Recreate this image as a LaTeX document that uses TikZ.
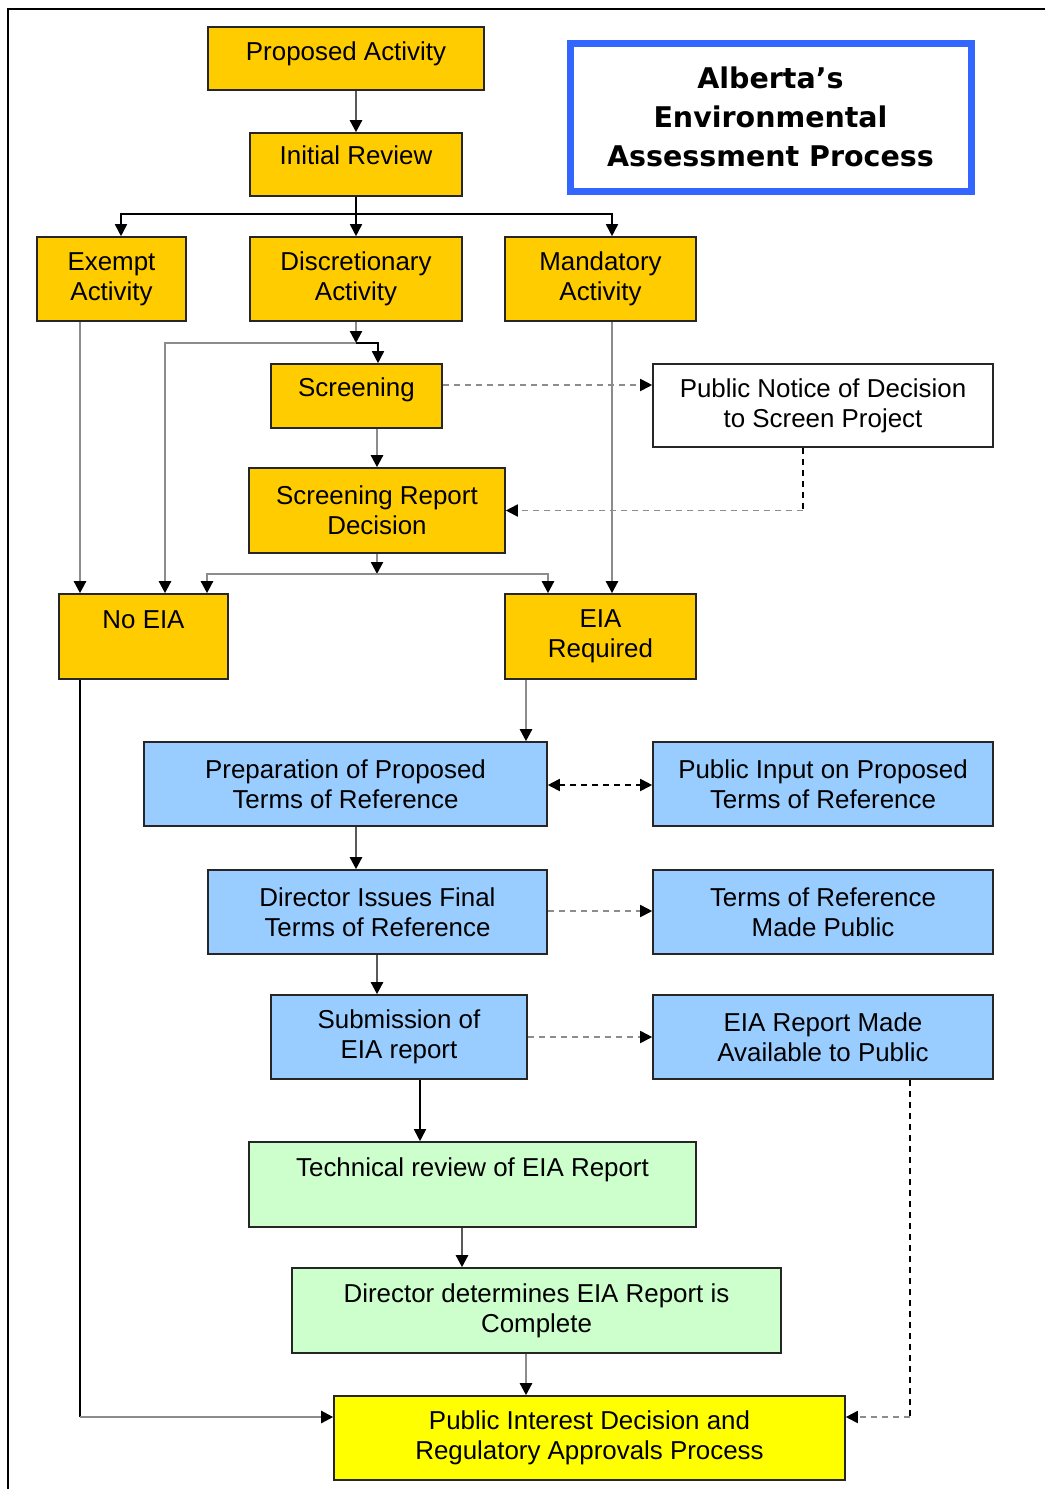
\documentclass[tikz,border=0pt]{standalone}
\usepackage{fontspec}
\setmainfont{Liberation Sans}
\newfontfamily\headfont{DejaVu Sans}
\usetikzlibrary{arrows.meta}

\definecolor{stagegold}{HTML}{FFCC00}
\definecolor{stageblue}{HTML}{99CCFF}
\definecolor{stagegreen}{HTML}{CCFFCC}
\definecolor{stageyellow}{HTML}{FFFF00}
\definecolor{headblue}{HTML}{3366FF}

\tikzset{
  flowtip/.tip={Triangle[length=12pt,width=12pt,color=black]},
  stage/.style={draw=black!85,line width=1.6pt,align=center,inner sep=2pt,
    font=\fontsize{25.9pt}{30pt}\selectfont},
  boxsize/.style 2 args={minimum width=#1pt,minimum height=#2pt},
  gold/.style={stage,fill=stagegold},
  sky/.style={stage,fill=stageblue},
  mint/.style={stage,fill=stagegreen},
  lemon/.style={stage,fill=stageyellow},
  plain/.style={stage,fill=white},
  oneline/.style={text height=18.5pt,text depth=#1},
  oneline/.default=0pt,
  heading/.style={draw=headblue,line width=7pt,align=center,
    font=\headfont\bfseries\fontsize{28.5pt}{39pt}\selectfont},
  flow/.style={line width=2.4pt,draw=black!45,-flowtip},
  blackflow/.style={line width=1.6pt,draw=black,-flowtip},
  notice/.style={line width=1.8pt,draw=black!45,dash pattern=on 6pt off 5pt,-flowtip}
}

\begin{document}
\begin{tikzpicture}[x=1pt,y=-1pt]
  \useasboundingbox (0,0) rectangle (1045,1489);
  \draw[line width=2pt] (8,1489) -- (8,9) -- (1045,9);

  % screening stage
  \node[gold,boxsize={276}{63},oneline=15pt] (pa) at (346,58.5) {Proposed Activity};
  \node[gold,boxsize={212}{63},oneline=19pt] (ir) at (356,164.5) {Initial Review};
  \node[gold,boxsize={149}{84}] (ex) at (111.5,279) {Exempt\\Activity};
  \node[gold,boxsize={212}{84}] (disc) at (356,279) {Discretionary\\Activity};
  \node[gold,boxsize={191}{84}] (mand) at (600.5,279) {Mandatory\\Activity};
  \node[heading,boxsize={401}{148}] (head) at (770.5,117) {Alberta’s\\Environmental\\Assessment Process};
  \node[gold,boxsize={171}{64},oneline=18pt] (scr) at (356.5,396) {Screening};
  \node[plain,boxsize={340}{83}] (pn) at (823,405.5) {Public Notice of Decision\\to Screen Project};
  \node[gold,boxsize={256}{85}] (srd) at (377,510.5) {Screening Report\\Decision};
  \node[gold,boxsize={169}{85},oneline=35pt] (noeia) at (143.5,636.5) {No EIA};
  \node[gold,boxsize={191}{85}] (eiareq) at (600.5,636.5) {EIA\\Required};

  % terms of reference
  \node[sky,boxsize={403}{84}] (prep) at (345.5,784) {Preparation of Proposed\\Terms of Reference};
  \node[sky,boxsize={340}{84}] (pi) at (823,784) {Public Input on Proposed\\Terms of Reference};
  \node[sky,boxsize={339}{84}] (dir) at (377.5,912) {Director Issues Final\\Terms of Reference};
  \node[sky,boxsize={340}{84}] (tmp) at (823,912) {Terms of Reference\\Made Public};
  \node[sky,boxsize={256}{84}] (sub) at (399,1037) {Submission of\\EIA report};
  \node[sky,boxsize={340}{84}] (avail) at (823,1037) {EIA Report Made\\Available to Public};

  % review and decision
  \node[mint,boxsize={447}{85},oneline=35pt] (tech) at (472.5,1184.5) {Technical review of EIA Report};
  \node[mint,boxsize={489}{85}] (det) at (536.5,1310.5) {Director determines EIA Report is\\Complete};
  \node[lemon,boxsize={511}{84}] (pid) at (589.5,1438) {Public Interest Decision and\\Regulatory Approvals Process};

  \coordinate (j1) at (356,214);
  \coordinate (j2) at (356,343);
  \coordinate (j3) at (377,574);
  \coordinate (k1) at (80,1417);
  \coordinate (k2) at (803,510.5);
  \coordinate (k3) at (910,1417);

  \draw[flow,draw=black!65] (pa.south -| ir.north) -- (ir.north);
  \draw[blackflow,-] (ir.south) -- (j1);
  \draw[blackflow] (j1) -| ([xshift=9.5pt]ex.north);
  \draw[blackflow] (j1) -- (disc.north);
  \draw[blackflow] (j1) -| ([xshift=11.5pt]mand.north);
  \draw[flow] (ex.south -| 80,0) -- (noeia.north -| 80,0);
  \draw[flow] (disc.south) -- (j2);
  \draw[blackflow] (j2) -| ([xshift=21.5pt]scr.north);
  \draw[flow] (j2) -| ([xshift=21.5pt]noeia.north);
  \draw[flow] (scr.south -| srd.north) -- (srd.north);
  \draw[notice] (scr.east |- 0,385) -- (pn.west |- 0,385);
  \draw[notice,draw=black,-] (pn.south -| k2) -- (k2);
  \draw[notice] (k2) -- (srd.east);
  \draw[flow] (srd.south) -- (j3);
  \draw[flow] (j3) -| ([xshift=63.5pt]noeia.north);
  \draw[flow] (j3) -| ([xshift=-52.5pt]eiareq.north);
  \draw[flow] (mand.south -| 612,0) -- (eiareq.north -| 612,0);
  \draw[blackflow,-] (noeia.south -| k1) -- (k1);
  \draw[flow] (k1) -- (pid.west |- k1);

  \draw[flow] (eiareq.south -| 526,0) -- (prep.north -| 526,0);
  \draw[notice,draw=black,flowtip-flowtip] (prep.east |- 0,785) -- (pi.west |- 0,785);
  \draw[flow,draw=black!65] (prep.south -| 356,0) -- (dir.north -| 356,0);
  \draw[notice] (dir.east |- 0,911) -- (tmp.west |- 0,911);
  \draw[flow,draw=black!65] (dir.south -| 377,0) -- (sub.north -| 377,0);
  \draw[notice] (sub.east) -- (avail.west);
  \draw[blackflow] (sub.south -| 420,0) -- (tech.north -| 420,0);
  \draw[flow,draw=black!65] (tech.south -| 462,0) -- (det.north -| 462,0);
  \draw[flow] (det.south -| 526,0) -- (pid.north -| 526,0);
  \draw[notice,draw=black,-] (avail.south -| k3) -- (k3);
  \draw[notice] (k3) -- (pid.east |- k3);
\end{tikzpicture}
\end{document}
